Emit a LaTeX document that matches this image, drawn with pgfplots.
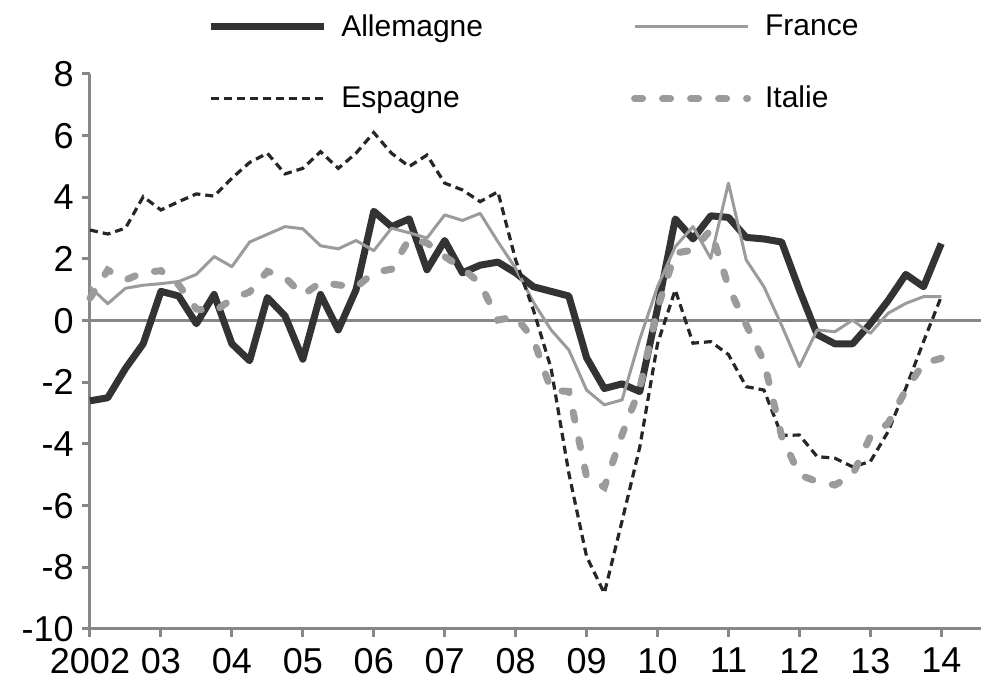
\documentclass[border=0pt]{standalone}
\usepackage{fontspec}
\setmainfont{Liberation Sans}
\usepackage{pgfplots}
\pgfplotsset{compat=1.18}
\definecolor{axgray}{RGB}{135,135,135}
\definecolor{dkline}{RGB}{51,51,51}
\definecolor{ltline}{RGB}{155,155,155}
\definecolor{esp}{RGB}{38,38,38}

\pgfplotstableread{
x a f e i
0.00 -2.60 1.10 2.94 0.73
0.25 -2.50 0.55 2.81 1.64
0.50 -1.55 1.05 3.00 1.32
0.75 -0.75 1.15 4.02 1.56
1.00 0.95 1.20 3.59 1.62
1.25 0.80 1.27 3.86 1.16
1.50 -0.10 1.50 4.11 0.38
1.75 0.85 2.08 4.04 0.29
2.00 -0.75 1.75 4.62 0.70
2.25 -1.30 2.55 5.13 0.93
2.50 0.75 2.80 5.43 1.60
2.75 0.15 3.05 4.76 1.40
3.00 -1.25 2.98 4.94 0.83
3.25 0.85 2.43 5.48 1.24
3.50 -0.30 2.33 4.94 1.16
3.75 1.00 2.60 5.43 1.08
4.00 3.55 2.27 6.10 1.56
4.25 3.05 3.00 5.43 1.67
4.50 3.30 2.85 5.00 2.65
4.75 1.65 2.68 5.37 2.52
5.00 2.60 3.43 4.46 2.08
5.25 1.55 3.25 4.24 1.70
5.50 1.80 3.48 3.86 1.21
5.75 1.90 2.56 4.18 0.02
6.00 1.55 1.70 1.97 0.13
6.25 1.10 0.60 0.35 -0.60
6.50 0.95 -0.30 -1.55 -2.25
6.75 0.80 -0.95 -4.95 -2.30
7.00 -1.20 -2.25 -7.65 -5.06
7.25 -2.20 -2.73 -8.84 -5.40
7.50 -2.05 -2.57 -6.50 -3.70
7.75 -2.30 -0.60 -4.10 -2.20
8.00 0.40 1.10 -0.75 0.40
8.25 3.30 2.40 1.00 2.19
8.50 2.65 3.05 -0.73 2.29
8.75 3.40 2.02 -0.68 2.94
9.00 3.35 4.46 -1.10 1.10
9.25 2.70 1.97 -2.14 -0.13
9.50 2.65 1.10 -2.25 -1.32
9.75 2.55 -0.15 -3.72 -3.75
10.00 1.00 -1.49 -3.71 -5.00
10.25 -0.45 -0.30 -4.41 -5.22
10.50 -0.75 -0.36 -4.46 -5.33
10.75 -0.75 0.02 -4.74 -5.00
11.00 -0.10 -0.41 -4.57 -3.76
11.25 0.65 0.24 -3.60 -3.33
11.50 1.50 0.56 -2.19 -2.25
11.75 1.10 0.78 -0.68 -1.38
12.00 2.50 0.78 0.78 -1.22
}\data

\begin{document}
\begin{tikzpicture}
\begin{axis}[name=ax, scale only axis, width=445.5pt, height=277.5pt,
  xmin=0, xmax=12.56, ymin=-10, ymax=8,
  axis x line*=bottom, axis y line*=left,
  axis line style={axgray, line width=1.5pt},
  xtick={0,...,12}, xticklabels={2002,03,04,05,06,07,08,09,10,11,12,13,14},
  ytick={-10,-8,...,8}, yticklabels={-10,-8,-6,-4,-2,0,2,4,6,8},
  tick align=outside, major tick length=4pt,
  tick style={axgray, line width=1.5pt},
  ticklabel style={font=\fontsize{18}{18}\selectfont},
  yticklabel style={inner xsep=4pt},
  xticklabel style={yshift=-2pt},
  clip=false,
  legend columns=2,
  legend cell align=left,
  legend style={draw=none, fill=none, at={(0.1245,1.1225)}, anchor=north west,
    font=\fontsize{15}{18}\selectfont, row sep=19.5pt,
    /tikz/every odd column/.append style={column sep=5pt},
    /tikz/every even column/.append style={column sep=72pt}},
  legend image code/.code={\draw[#1] (0pt,0pt) -- (56.5pt,0pt);},
]
\addplot[axgray, line width=1.5pt, forget plot] coordinates {(0,0) (12.56,0)};
\addplot[dkline, line width=3.5pt, line join=round] table[x=x,y=a] {\data};
\addlegendentry{Allemagne}
\addplot[ltline, line width=1.5pt, line join=round] table[x=x,y=f] {\data};
\addlegendentry{France}
\addplot[esp, line width=1.6pt, dash pattern=on 4pt off 2.5pt] table[x=x,y=e] {\data};
\addlegendentry{Espagne}
\addplot[ltline, line width=3.5pt, line cap=round, dash pattern=on 4pt off 10pt] table[x=x,y=i] {\data};
\addlegendentry{Italie}
\end{axis}
\pgfresetboundingbox
\path[use as bounding box] ([shift={(-45pt,-28.5pt)}]ax.south west) rectangle ([shift={(0pt,37pt)}]ax.north east);
\end{tikzpicture}
\end{document}
